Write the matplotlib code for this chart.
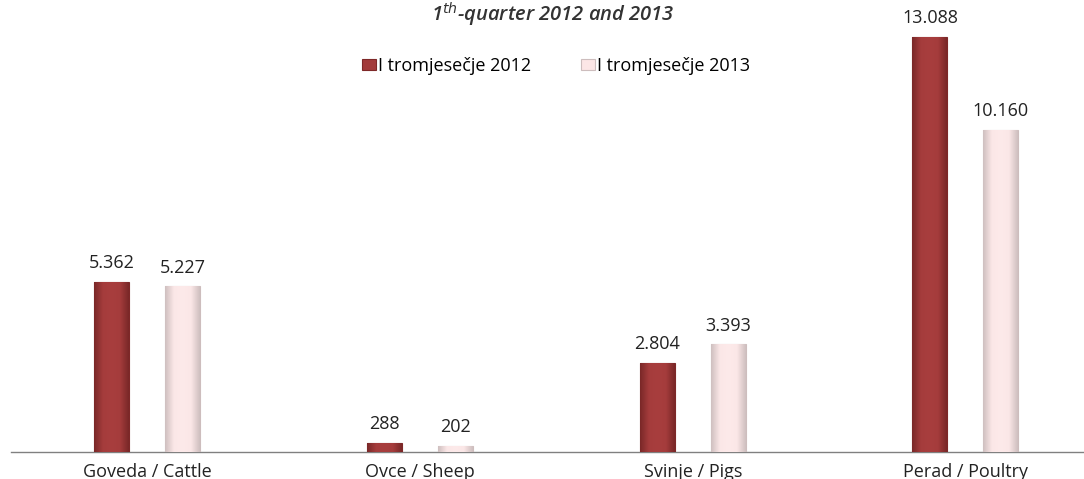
import matplotlib
matplotlib.use("Agg")
import matplotlib.pyplot as plt
import numpy as np
from matplotlib.colors import LinearSegmentedColormap

categories = ["Goveda / Cattle", "Ovce / Sheep", "Svinje / Pigs", "Perad / Poultry"]
series_names = ["I tromjesečje 2012", "I tromjesečje 2013"]
values_2012 = [5362, 288, 2804, 13088]
values_2013 = [5227, 202, 3393, 10160]
labels_2012 = ["5.362", "288", "2.804", "13.088"]
labels_2013 = ["5.227", "202", "3.393", "10.160"]

plt.rcParams['font.family'] = ['Open Sans', 'DejaVu Sans']

W, H = 1084, 479
fig = plt.figure(figsize=(W / 100, H / 100), dpi=100)
ax = fig.add_axes([11 / W, 27 / H, 1073 / W, 452 / H])

x = np.arange(len(categories))
bw = 0.128
off = 0.13
red = "#A23A3A"
red_edge = "#7E2828"
pink = "#FCE6E6"
pink_edge = "#CDBDBD"
fs = 13

b1 = ax.bar(x - off, values_2012, bw, color=red, edgecolor=red_edge, linewidth=0.8,
            label=series_names[0], zorder=3)
b2 = ax.bar(x + off, values_2013, bw, color=pink, edgecolor=pink_edge, linewidth=0.8,
            label=series_names[1], zorder=3)

cm_red = LinearSegmentedColormap.from_list("r", ["#7A2828", "#A53C3C", "#A83E3E", "#A53C3C", "#7A2828"])
cm_pink = LinearSegmentedColormap.from_list("p", ["#CFC0C0", "#FBE7E7", "#FDEAEA", "#FBE7E7", "#CFC0C0"])
grad = np.linspace(0, 1, 64).reshape(1, -1)
for bars, cm in ((b1, cm_red), (b2, cm_pink)):
    for rect in bars:
        x0, y0 = rect.get_x(), rect.get_y()
        w, h = rect.get_width(), rect.get_height()
        im = ax.imshow(grad, cmap=cm, aspect="auto", extent=(x0, x0 + w, y0, y0 + h),
                       zorder=3.5, interpolation="bicubic")
        im.set_clip_path(rect)

for rect, lab in zip(b1, labels_2012):
    ax.annotate(lab, (rect.get_x() + rect.get_width() / 2, rect.get_height()),
                xytext=(0, 7), textcoords="offset points", ha="center", va="bottom",
                fontsize=fs, color="#222222")
for rect, lab in zip(b2, labels_2013):
    ax.annotate(lab, (rect.get_x() + rect.get_width() / 2, rect.get_height()),
                xytext=(0, 7), textcoords="offset points", ha="center", va="bottom",
                fontsize=fs, color="#222222")

ax.set_xlim(-0.5, 3.435)
ax.set_ylim(0, 14260)
ax.set_xticks(x)
ax.set_xticklabels(categories, fontsize=fs, color="#222222")
ax.tick_params(axis="x", length=0, pad=8)
ax.set_yticks([])
for s in ["top", "right", "left"]:
    ax.spines[s].set_visible(False)
ax.spines["bottom"].set_color("#808080")
ax.spines["bottom"].set_linewidth(1)

leg = ax.legend(loc="center", bbox_to_anchor=(545 / 1073, (452 - 66) / 452), ncol=2,
                frameon=False, fontsize=fs, handlelength=0.75, handleheight=0.55,
                handletextpad=0.1, columnspacing=2.8, borderpad=0)

fig.text(553 / W, 1 - 1 / H, r"1$^{th}$-quarter 2012 and 2013", ha="center", va="top",
         fontsize=14.5, style="italic", fontweight="semibold", color="#333333")

fig.savefig("out.png", dpi=100)
